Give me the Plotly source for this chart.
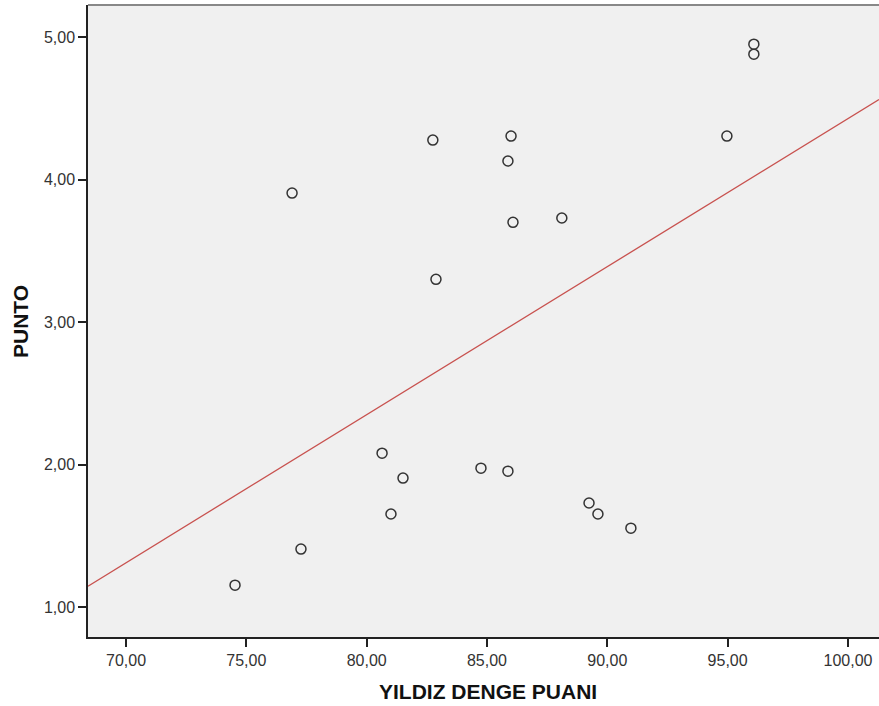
import numpy as np
import plotly.graph_objects as go

yildiz = [76.90, 82.75, 86.00, 85.87, 86.08, 88.11, 82.88, 94.97, 96.09, 96.09,
          80.64, 81.51, 81.01, 84.75, 85.87, 89.24, 89.61, 90.98, 77.27, 74.53]
punto = [3.905, 4.277, 4.305, 4.13, 3.70, 3.73, 3.30, 4.305, 4.95, 4.88,
         2.08, 1.905, 1.653, 1.975, 1.954, 1.73, 1.653, 1.554, 1.407, 1.154]
x_ticks = [70, 75, 80, 85, 90, 95, 100]
y_ticks = [1, 2, 3, 4, 5]
x_range = [68.42, 101.29]
y_range = [0.79, 5.225]

slope, intercept = np.polyfit(yildiz, punto, 1)
line_x = np.array(x_range)
line_y = slope * line_x + intercept

fig = go.Figure()
fig.add_trace(go.Scatter(x=line_x, y=line_y, mode="lines",
                         line=dict(color="#c8524f", width=1.3), hoverinfo="skip"))
fig.add_trace(go.Scatter(x=yildiz, y=punto, mode="markers",
                         marker=dict(symbol="circle-open", size=10,
                                     color="#333333", line=dict(width=1.5, color="#333333"))))

font = "Liberation Sans, Arial, sans-serif"
axis_common = dict(showgrid=False, zeroline=False, showline=True, linecolor="#222222",
                   linewidth=1.5, ticks="outside", ticklen=8, tickwidth=1.5,
                   tickcolor="#222222", tickformat=".2f",
                   tickfont=dict(family=font, size=16, color="#333333"))
fig.update_layout(
    width=879, height=706,
    margin=dict(l=88, r=0, t=5, b=69),
    paper_bgcolor="white", plot_bgcolor="#f0f0f0",
    showlegend=False,
    separators=",.",
    font=dict(family=font, size=16, color="#222222"),
    xaxis=dict(range=x_range, tickvals=x_ticks, **axis_common),
    yaxis=dict(range=y_range, tickvals=y_ticks, **axis_common),
    shapes=[dict(type="line", xref="paper", yref="paper", x0=0, x1=1, y0=1, y1=1,
                 line=dict(color="#888888", width=2))],
    annotations=[
        dict(text="<b>YILDIZ DENGE PUANI</b>", xref="paper", yref="paper",
             x=0.506, y=-0.087, xanchor="center", yanchor="middle", showarrow=False,
             font=dict(family=font, size=21, color="#111111")),
        dict(text="<b>PUNTO</b>", xref="paper", yref="paper", textangle=-90,
             x=-0.086, y=0.5, xanchor="center", yanchor="middle", showarrow=False,
             font=dict(family=font, size=21, color="#111111")),
    ],
)
fig.write_html("out.html", config={"displayModeBar": False},
               post_script="document.body.style.margin='0';")
